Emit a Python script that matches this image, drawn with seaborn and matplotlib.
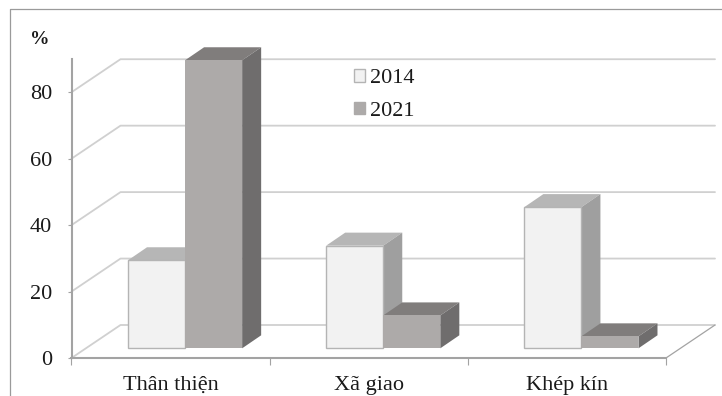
import matplotlib
matplotlib.use("Agg")
import matplotlib.pyplot as plt
import numpy as np
import pandas as pd
import seaborn as sns
from matplotlib.lines import Line2D
from matplotlib.patches import Patch, Polygon
from matplotlib.transforms import Affine2D, IdentityTransform

categories = ["Thân thiện", "Xã giao", "Khép kín"]
values_2014 = [26.5, 30.9, 42.5]
values_2021 = [86.7, 9.9, 3.6]
years = ["2014", "2021"]
y_ticks = [0, 20, 40, 60, 80]

front_colors = {"2014": "#f2f2f2", "2021": "#adaaa9"}
edge_colors = {"2014": "#b4b4b4", "2021": "#adaaa9"}
edge_widths = {"2014": 1.0, "2021": 0.0}
top_colors = {"2014": "#b6b6b6", "2021": "#807d7c"}
side_colors = {"2014": "#9f9f9f", "2021": "#6f6d6d"}

WALL_DX, WALL_DY = 49, 33      # oblique offset of the back wall, in pixels
BAR_SHIFT = (14.5, 9.7)        # bars stand part-way into the floor
BAR_DX, BAR_DY = 19, 13        # extruded depth of each bar
GRID = "#d0d0d0"
AXIS = "#a3a3a3"
FRAME = "#9a9a9a"
TEXT = "#1a1a1a"

sns.set_theme(style="white")
plt.rcParams["font.family"] = ["Liberation Serif", "DejaVu Serif"]

W, H = 722, 396
fig = plt.figure(figsize=(W / 100, H / 100), dpi=100)
ax = fig.add_axes([71.5 / W, (H - 358) / H, (666 - 71.5) / W, 299 / H])

frame = pd.DataFrame({
    "category": categories * 2,
    "year": [years[0]] * 3 + [years[1]] * 3,
    "value": values_2014 + values_2021,
})
sns.barplot(data=frame, x="category", y="value", hue="year", hue_order=years,
            order=categories, palette=front_colors, width=0.576, gap=0,
            saturation=1, legend=False, ax=ax)

ax.set_xlim(-0.5, 2.5)
ax.set_ylim(0, 90)
ax.set_xlabel("")
ax.set_ylabel("")

# Back wall and floor, projected from the front plane.
data_to_px = ax.transData
for v in y_ticks:
    x0, y0 = data_to_px.transform((-0.5, v))
    x1, _ = data_to_px.transform((2.5, v))
    ax.add_artist(Line2D([x0, x0 + WALL_DX, x1 + WALL_DX],
                         [y0, y0 + WALL_DY, y0 + WALL_DY],
                         color=GRID, lw=1.3, transform=IdentityTransform(),
                         clip_on=False, zorder=0.5))
x1, y0 = data_to_px.transform((2.5, 0))
ax.add_artist(Line2D([x1, x1 + WALL_DX], [y0, y0 + WALL_DY], color=AXIS, lw=0.9,
                     transform=IdentityTransform(), clip_on=False, zorder=0.6))

# Extrude every seaborn bar: shift its front face, then add top and side faces.
shift = Affine2D().translate(*BAR_SHIFT)
for layer, (year, container) in enumerate(zip(years, ax.containers)):
    z = 2 + layer
    for bar in container:
        left = bar.get_x()
        right = left + bar.get_width()
        height = bar.get_height()
        (xa, ya), (xb, yb) = shift.transform(
            data_to_px.transform([(left, 0), (right, height)]))
        top = [(xa, yb), (xb, yb), (xb + BAR_DX, yb + BAR_DY), (xa + BAR_DX, yb + BAR_DY)]
        side = [(xb, ya), (xb + BAR_DX, ya + BAR_DY), (xb + BAR_DX, yb + BAR_DY), (xb, yb)]
        for pts, colour in ((top, top_colors[year]), (side, side_colors[year])):
            ax.add_patch(Polygon(pts, closed=True, facecolor=colour, edgecolor="none",
                                 transform=IdentityTransform(), clip_on=False, zorder=z))
        bar.set_transform(ax.transData + shift)
        bar.set_edgecolor(edge_colors[year])
        bar.set_linewidth(edge_widths[year])
        bar.set_clip_on(False)
        bar.set_zorder(z + 0.1)

sns.despine(ax=ax, top=True, right=True)
for name in ("left", "bottom"):
    ax.spines[name].set_color(AXIS)
    ax.spines[name].set_linewidth(1.5)
    ax.spines[name].set_zorder(1)

ax.set_yticks(y_ticks)
ax.set_xticks(range(len(categories)), categories)
ax.set_xticks([-0.5, 0.5, 1.5, 2.5], minor=True)
ax.tick_params(axis="y", length=3, width=0.8, color=AXIS, labelsize=16,
               labelcolor=TEXT, pad=11, left=True)
ax.tick_params(axis="x", which="major", length=0, labelsize=16,
               labelcolor=TEXT, pad=13)
ax.tick_params(axis="x", which="minor", length=5, width=0.8, color=AXIS, bottom=True)

handles = [Patch(facecolor=front_colors[y], edgecolor=edge_colors[y]) for y in years]
fig.legend(handles, years, loc="center left", bbox_to_anchor=(354 / W, 1 - 95 / H),
           frameon=False, fontsize=16, labelcolor=TEXT, handlelength=0.5, handleheight=0.5,
           handletextpad=0.2, labelspacing=0.6, borderpad=0, borderaxespad=0)

fig.text(30 / W, 1 - 40 / H, "%", fontsize=14, fontweight="bold", color=TEXT,
         va="center", ha="left")

# Thin outer frame along the top and left edges.
fig.add_artist(Line2D([9.5 / W, 9.5 / W, 1], [0, 1 - 9 / H, 1 - 9 / H],
                      color=FRAME, lw=0.9))

fig.savefig("out.png", dpi=100)
